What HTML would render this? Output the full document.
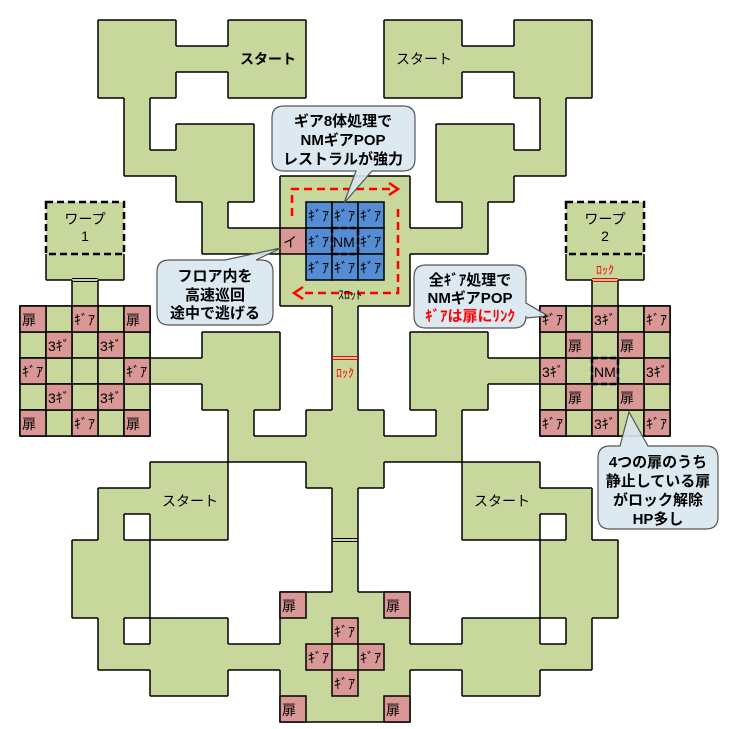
<!DOCTYPE html>
<html><head><meta charset="utf-8">
<style>
html,body{margin:0;padding:0;background:#fff;}
svg{display:block;}
text{font-family:"Liberation Sans","Noto Sans CJK JP",sans-serif;}
.b{font-size:15px;font-weight:bold;fill:#000;text-anchor:middle;}
</style></head>
<body>
<div style="position:relative;width:731px;height:729px">
<svg id="m" width="731" height="729" viewBox="0 0 731 729" xmlns="http://www.w3.org/2000/svg" style="position:absolute;left:0;top:0">
<g id="floor"></g>
<g id="edges" fill="none" stroke="#000" stroke-width="1.5"></g>
<g id="cells"></g>
<rect x="46" y="202" width="78" height="52" fill="none" stroke="#000" stroke-width="2.5" stroke-dasharray="7,4"/>
<rect x="566" y="202" width="78" height="52" fill="none" stroke="#000" stroke-width="2.5" stroke-dasharray="7,4"/>
<g stroke-width="1">
<line x1="72" y1="278.5" x2="98" y2="278.5" stroke="#000"/><line x1="72" y1="281.5" x2="98" y2="281.5" stroke="#000"/>
<line x1="592" y1="278.5" x2="618" y2="278.5" stroke="#f00"/><line x1="592" y1="281.5" x2="618" y2="281.5" stroke="#f00"/>
<line x1="332" y1="356.5" x2="358" y2="356.5" stroke="#f00"/><line x1="332" y1="359.5" x2="358" y2="359.5" stroke="#f00"/>
<line x1="332" y1="538.5" x2="358" y2="538.5" stroke="#000"/><line x1="332" y1="541.5" x2="358" y2="541.5" stroke="#000"/>
</g>
<rect x="332" y="228" width="26" height="26" fill="none" stroke="#000" stroke-width="2.5" stroke-dasharray="6,3"/>
<rect x="592" y="358" width="26" height="26" fill="none" stroke="#000" stroke-width="2.5" stroke-dasharray="6,3"/>
<g stroke="#f00" stroke-width="2.5" fill="none" stroke-dasharray="8,5">
<path d="M292,216 L292,189 L390,189"/>
<path d="M398,209 L398,293 L300,293"/>
</g>
<path d="M389,183 L398,189 L389,195" stroke="#f00" stroke-width="2.5" fill="none"/>
<path d="M303,287 L294,293 L303,299" stroke="#f00" stroke-width="2.5" fill="none"/>
<text x="350" y="299" style="font-size:12px" text-anchor="middle">ｽﾛｯﾄ</text>
<text x="268" y="64" style="font-size:14px;font-weight:bold" text-anchor="middle">スタート</text>
<text x="424" y="64" style="font-size:14px" text-anchor="middle">スタート</text>
<text x="190" y="506" style="font-size:14px" text-anchor="middle">スタート</text>
<text x="502" y="506" style="font-size:14px" text-anchor="middle">スタート</text>
<text x="85" y="224" style="font-size:14px" text-anchor="middle">ワープ</text>
<text x="85" y="241" style="font-size:14px" text-anchor="middle">1</text>
<text x="605" y="224" style="font-size:14px" text-anchor="middle">ワープ</text>
<text x="605" y="241" style="font-size:14px" text-anchor="middle">2</text>
<text x="605" y="274" style="font-size:12px;fill:#f00" text-anchor="middle">ﾛｯｸ</text>
<text x="345" y="377" style="font-size:12px;fill:#f00" text-anchor="middle">ﾛｯｸ</text>
<g fill="#d8e7ef" stroke="#555" stroke-width="1.2">
<path d="M284,106 H403 Q415,106 415,118 V159 Q415,171 403,171 H372 L344,203 L356,171 H284 Q272,171 272,159 V118 Q272,106 284,106 Z" fill-opacity="0.9"/>
<path d="M169,260 H225 L281,248 L256,260 H261 Q273,260 273,272 V313 Q273,325 261,325 H169 Q157,325 157,313 V272 Q157,260 169,260 Z" fill-opacity="0.9"/>
<path d="M426,265 H514 Q526,265 526,277 V303 L548,316 L526,318 V316 Q526,328 514,328 H426 Q414,328 414,316 V277 Q414,265 426,265 Z" fill-opacity="0.9"/>
<path d="M610,446 H620 L629,412 L648,446 H706 Q718,446 718,458 V517 Q718,529 706,529 H610 Q598,529 598,517 V458 Q598,446 610,446 Z" fill-opacity="0.9"/>
</g>
<text class="b" x="343" y="126">ギア8体処理で</text>
<text class="b" x="343" y="145">NMギアPOP</text>
<text class="b" x="343" y="164">レストラルが強力</text>
<text class="b" x="215" y="281">フロア内を</text>
<text class="b" x="215" y="300">高速巡回</text>
<text class="b" x="215" y="318">途中で逃げる</text>
<text class="b" x="470" y="285">全ｷﾞｱ処理で</text>
<text class="b" x="470" y="303">NMギアPOP</text>
<text class="b" x="470" y="321" style="fill:#f00">ｷﾞｱは扉にﾘﾝｸ</text>
<text class="b" x="658" y="467">4つの扉のうち</text>
<text class="b" x="658" y="486">静止している扉</text>
<text class="b" x="658" y="505">がロック解除</text>
<text class="b" x="658" y="524">HP多し</text>
<g style="font-size:14px">
<text x="22" y="325">扉</text><text x="74" y="325">ｷﾞｱ</text><text x="126" y="325">扉</text>
<text x="48" y="351">3ｷﾞ</text><text x="100" y="351">3ｷﾞ</text>
<text x="22" y="377">ｷﾞｱ</text><text x="126" y="377">ｷﾞｱ</text>
<text x="48" y="403">3ｷﾞ</text><text x="100" y="403">3ｷﾞ</text>
<text x="22" y="429">扉</text><text x="74" y="429">ｷﾞｱ</text><text x="126" y="429">扉</text>
<text x="542" y="325">ｷﾞｱ</text><text x="594" y="325">3ｷﾞ</text><text x="646" y="325">ｷﾞｱ</text>
<text x="568" y="351">扉</text><text x="620" y="351">扉</text>
<text x="542" y="377">3ｷﾞ</text><text x="594" y="377">NM</text><text x="646" y="377">3ｷﾞ</text>
<text x="568" y="403">扉</text><text x="620" y="403">扉</text>
<text x="542" y="429">ｷﾞｱ</text><text x="594" y="429">3ｷﾞ</text><text x="646" y="429">ｷﾞｱ</text>
<text x="282" y="611">扉</text><text x="386" y="611">扉</text>
<text x="334" y="637">ｷﾞｱ</text>
<text x="308" y="663">ｷﾞｱ</text><text x="360" y="663">ｷﾞｱ</text>
<text x="334" y="689">ｷﾞｱ</text>
<text x="282" y="715">扉</text><text x="386" y="715">扉</text>
<text x="283" y="247">イ</text>
<text x="308" y="221">ｷﾞｱ</text><text x="334" y="221">ｷﾞｱ</text><text x="360" y="221">ｷﾞｱ</text>
<text x="308" y="247">ｷﾞｱ</text><text x="333" y="247">NM</text><text x="360" y="247">ｷﾞｱ</text>
<text x="308" y="273">ｷﾞｱ</text><text x="334" y="273">ｷﾞｱ</text><text x="360" y="273">ｷﾞｱ</text>
</g>
</svg>
</div>
<script>
(function(){
var rows={
0:[[3,5],[8,10],[14,16],[19,21]],
1:[[3,10],[14,21]],
2:[[3,5],[8,10],[14,16],[19,21]],
3:[[4,4],[20,20]],
4:[[4,4],[6,8],[16,18],[20,20]],
5:[[4,8],[16,20]],
6:[[6,8],[10,14],[16,18]],
7:[[1,3],[7,7],[10,14],[17,17],[21,23]],
8:[[1,3],[7,17],[21,23]],
9:[[1,3],[10,14],[21,23]],
10:[[2,2],[10,14],[22,22]],
11:[[0,4],[12,12],[20,24]],
12:[[0,4],[7,9],[12,12],[15,17],[20,24]],
13:[[0,9],[12,12],[15,24]],
14:[[0,4],[7,9],[12,12],[15,17],[20,24]],
15:[[0,4],[8,8],[11,13],[16,16],[20,24]],
16:[[8,16]],
17:[[5,7],[11,13],[17,19]],
18:[[3,7],[12,12],[17,21]],
19:[[3,3],[5,7],[12,12],[17,19],[21,21]],
20:[[2,4],[12,12],[20,22]],
21:[[2,4],[12,12],[20,22]],
22:[[2,4],[10,14],[20,22]],
23:[[3,3],[5,7],[10,14],[17,19],[21,21]],
24:[[3,21]],
25:[[5,7],[10,14],[17,19]],
26:[[10,14]]};
var S={};
for(var r in rows){rows[r].forEach(function(a){for(var c=a[0];c<=a[1];c++)S[c+','+r]=1;});}
function has(c,r){return !!S[c+','+r];}
function warp(c,r){return (r==7||r==8)&&((c>=1&&c<=3)||(c>=21&&c<=23));}
var X=function(c){return 20+26*c;},Y=function(r){return 20+26*r;};
var ns='http://www.w3.org/2000/svg';
var fl=document.getElementById('floor'),ed=document.getElementById('edges'),ce=document.getElementById('cells');
var d='',e='';
for(var k in S){var p=k.split(',');var c=+p[0],r=+p[1];
 d+='M'+X(c)+','+Y(r)+'h26v26h-26z';
 if(warp(c,r))continue;
 if(!has(c,r-1))e+='M'+X(c)+','+Y(r)+'h26';
 if(!has(c,r+1))e+='M'+X(c)+','+Y(r+1)+'h26';
 if(!has(c-1,r))e+='M'+X(c)+','+Y(r)+'v26';
 if(!has(c+1,r))e+='M'+X(c+1)+','+Y(r)+'v26';
}
var pf=document.createElementNS(ns,'path');pf.setAttribute('d',d);pf.setAttribute('fill','#c8d79c');fl.appendChild(pf);
var pe=document.createElementNS(ns,'path');pe.setAttribute('d',e);ed.appendChild(pe);
function cell(c,r,fill){var q=document.createElementNS(ns,'rect');q.setAttribute('x',X(c));q.setAttribute('y',Y(r));q.setAttribute('width',26);q.setAttribute('height',26);q.setAttribute('fill',fill);q.setAttribute('stroke','#000');q.setAttribute('stroke-width','1.5');ce.appendChild(q);}
var G='#c8d79c',P='#d99795',B='#548dd4';
for(var r=11;r<=15;r++)for(var c=0;c<=4;c++)cell(c,r,G);
for(var r=11;r<=15;r++)for(var c=20;c<=24;c++)cell(c,r,G);
var pinkL=[[0,11],[2,11],[4,11],[1,12],[3,12],[0,13],[4,13],[1,14],[3,14],[0,15],[2,15],[4,15]];
var pinkR=[[20,11],[22,11],[24,11],[21,12],[23,12],[20,13],[22,13],[24,13],[21,14],[23,14],[20,15],[22,15],[24,15]];
var pinkB=[[10,22],[14,22],[12,23],[11,24],[13,24],[12,25],[10,26],[14,26],[10,8]];
pinkL.concat(pinkR,pinkB).forEach(function(a){cell(a[0],a[1],P);});
for(var r=7;r<=9;r++)for(var c=11;c<=13;c++)cell(c,r,B);
})();
</script>
</body></html>
